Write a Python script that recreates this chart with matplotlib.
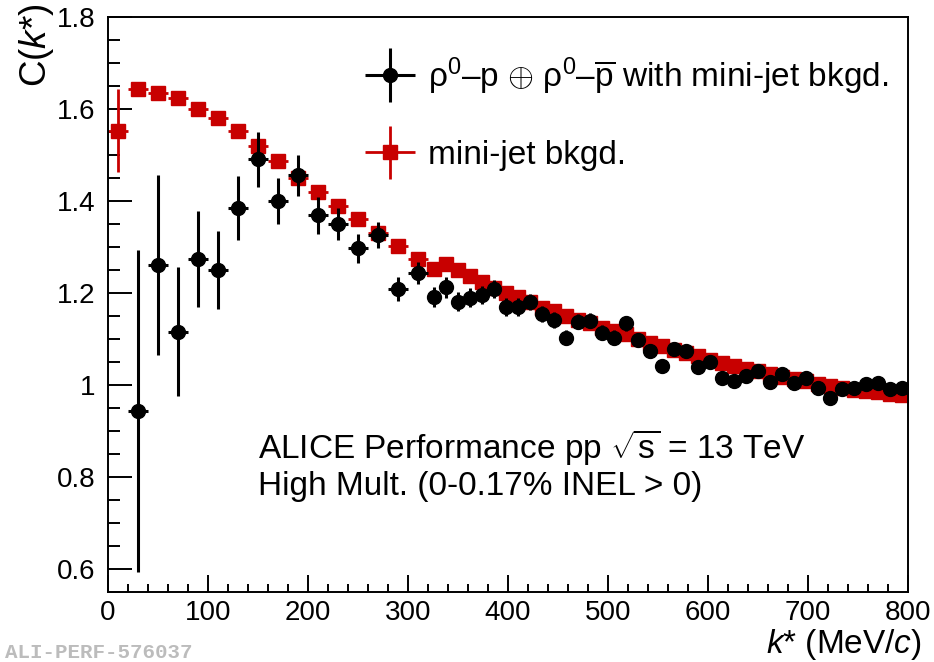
"""
Correlation function C(k*) for rho0-p (+ c.c.) pairs in high-multiplicity
pp collisions, compared with the mini-jet background template.
"""

import matplotlib

matplotlib.use("Agg")
import matplotlib.pyplot as plt
from matplotlib.container import ErrorbarContainer
from matplotlib.legend_handler import HandlerErrorbar
from matplotlib.ticker import FuncFormatter, MultipleLocator

plt.rcParams["font.family"] = ["Liberation Sans", "DejaVu Sans"]
plt.rcParams["mathtext.fontset"] = "custom"
plt.rcParams["mathtext.rm"] = "Liberation Sans"
plt.rcParams["mathtext.it"] = "Liberation Sans:italic"

# --- data: rho0-p (+ cc) with mini-jet background ---------------------
kstar_data = [30, 50, 70, 90, 110, 130, 150, 170, 190, 210, 230, 250, 270, 290, 310,
              326, 338, 350, 362, 374, 386, 398, 410, 422, 434, 446, 458, 470, 482,
              494, 506, 518, 530, 542, 554, 566, 578, 590, 602, 614, 626, 638, 650,
              662, 674, 686, 698, 710, 722, 734, 746, 758, 770, 782, 794]
ck_data = [0.943, 1.261, 1.116, 1.274, 1.250, 1.385, 1.491, 1.401, 1.456, 1.369,
           1.350, 1.297, 1.326, 1.209, 1.243,
           1.191, 1.212, 1.181, 1.190, 1.196, 1.209, 1.170, 1.170, 1.180, 1.154,
           1.141, 1.103, 1.138, 1.140, 1.114, 1.103, 1.134, 1.098, 1.075, 1.042,
           1.078, 1.074, 1.040, 1.049, 1.015, 1.009, 1.020, 1.031, 1.007, 1.025,
           1.004, 1.015, 0.993, 0.971, 0.991, 0.993, 1.002, 1.004, 0.991, 0.993]
ck_data_err = [0.350, 0.195, 0.140, 0.105, 0.085, 0.070, 0.060, 0.050, 0.045, 0.040,
               0.035, 0.032, 0.028, 0.026, 0.024,
               0.022, 0.022, 0.021, 0.021, 0.020, 0.020, 0.019, 0.019, 0.018, 0.018,
               0.018, 0.017, 0.017, 0.017, 0.016, 0.016, 0.016, 0.015, 0.015, 0.015,
               0.015, 0.014, 0.014, 0.014, 0.014, 0.013, 0.013, 0.013, 0.013, 0.012,
               0.012, 0.012, 0.012, 0.012, 0.011, 0.011, 0.011, 0.011, 0.011, 0.011]
kstar_data_halfwidth = [10] * 15 + [6] * 40

# --- mini-jet background template ---------------------------------------
kstar_bkg = [10, 30, 50, 70, 90, 110, 130, 150, 170, 190, 210, 230, 250, 270, 290, 310,
             326, 338, 350, 362, 374, 386, 398, 410, 422, 434, 446, 458, 470, 482,
             494, 506, 518, 530, 542, 554, 566, 578, 590, 602, 614, 626, 638, 650,
             662, 674, 686, 698, 710, 722, 734, 746, 758, 770, 782, 794]
ck_bkg = [1.553, 1.643, 1.635, 1.625, 1.600, 1.580, 1.552, 1.520, 1.487, 1.451,
          1.420, 1.389, 1.360, 1.330, 1.302, 1.273,
          1.252, 1.262, 1.250, 1.236, 1.223, 1.211, 1.201, 1.192, 1.181, 1.168,
          1.160, 1.150, 1.142, 1.135, 1.125, 1.117, 1.110, 1.100, 1.092, 1.085,
          1.077, 1.070, 1.063, 1.055, 1.048, 1.042, 1.035, 1.030, 1.024, 1.018,
          1.013, 1.008, 1.003, 0.998, 0.994, 0.990, 0.987, 0.984, 0.981, 0.978]
ck_bkg_err = [0.090] + [0.012] * 15 + [0.008] * 40
kstar_bkg_halfwidth = [10] * 16 + [6] * 40

RED = "#c80000"

fig = plt.figure(figsize=(9.34, 6.62), dpi=100)
ax = fig.add_axes([108 / 934, 1 - 592 / 662, 800 / 934, 575 / 662])

bkg = ax.errorbar(kstar_bkg, ck_bkg, yerr=ck_bkg_err, xerr=kstar_bkg_halfwidth,
                  fmt="s", color=RED, ms=9.5, elinewidth=2, capsize=0, zorder=2,
                  label="mini-jet bkgd.")
dat = ax.errorbar(kstar_data, ck_data, yerr=ck_data_err, xerr=kstar_data_halfwidth,
                  fmt="o", color="black", ms=10, elinewidth=2.2, capsize=0, zorder=3,
                  label=r"$\mathrm{\rho^{0}}$–p $\oplus$ $\mathrm{\rho^{0}}$–$\mathrm{\overline{p}}$"
                        " with mini-jet bkgd.")

ax.set_xlim(0, 800)
ax.set_ylim(0.55, 1.8)

ax.xaxis.set_major_locator(MultipleLocator(100))
ax.xaxis.set_minor_locator(MultipleLocator(20))
ax.yaxis.set_major_locator(MultipleLocator(0.2))
ax.yaxis.set_minor_locator(MultipleLocator(0.05))
ax.yaxis.set_major_formatter(FuncFormatter(lambda v, _: f"{v:g}"))

ax.tick_params(axis="both", which="both", direction="in", top=False, right=False,
               width=1.4, labelsize=20)
ax.tick_params(axis="y", which="major", length=17, pad=9)
ax.tick_params(axis="y", which="minor", length=8.5)
ax.tick_params(axis="x", which="major", length=12, pad=6)
ax.tick_params(axis="x", which="minor", length=6)
for spine in ax.spines.values():
    spine.set_linewidth(1.4)

# axis titles sit at the far ends, ROOT style
fig.text(922 / 934, 1 - 644 / 662, r"$\mathit{k}$* (MeV/$\mathit{c}$)",
         ha="right", va="center", fontsize=24)
fig.text(36 / 934, 1 - 4 / 662, r"C($\mathit{k}$*)", rotation=90,
         ha="center", va="top", fontsize=26.5)

fig.text(258 / 934, 1 - 447 / 662, r"ALICE Performance pp $\sqrt{\mathrm{s}}$ = 13 TeV",
         ha="left", va="center", fontsize=24)
fig.text(258 / 934, 1 - 487 / 662, "High Mult. (0-0.17% INEL > 0)",
         ha="left", va="center", fontsize=24)

fig.text(5 / 934, 1 - 653 / 662, "ALI-PERF-576037", family="Liberation Mono",
         weight="bold", color="#bcbcbc", fontsize=15, ha="left", va="center")

ax.legend(handles=[dat, bkg], loc="upper left",
          bbox_to_anchor=(365 / 934, 1 - 55 / 662), bbox_transform=fig.transFigure,
          frameon=False, fontsize=24, borderpad=0, borderaxespad=0,
          handlelength=1.5, handletextpad=0.4, labelspacing=1.3,
          handler_map={ErrorbarContainer: HandlerErrorbar(xerr_size=0.75, yerr_size=0.8)})

fig.savefig("out.png", dpi=100)
